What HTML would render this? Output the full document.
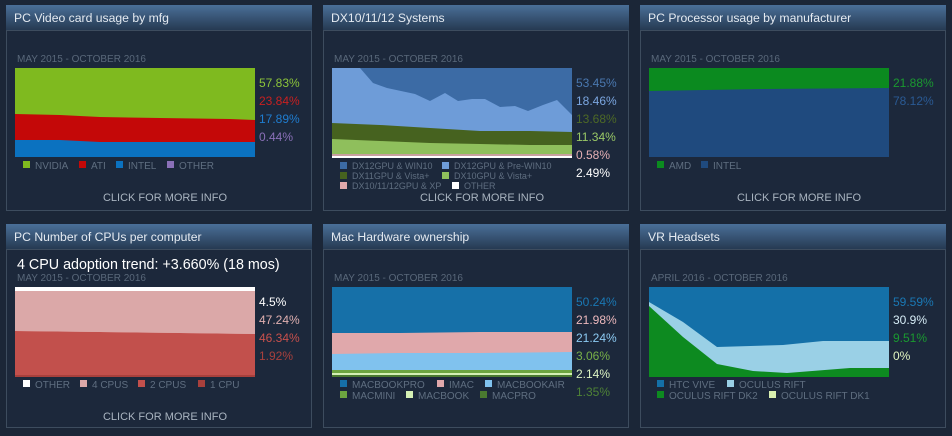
<!DOCTYPE html>
<html><head><meta charset="utf-8"><style>
html,body{margin:0;padding:0;background:#1b2637;}
svg{display:block;font-family:"Liberation Sans",sans-serif;}
</style></head><body>
<svg width="952" height="436" viewBox="0 0 952 436" xmlns="http://www.w3.org/2000/svg">
<defs>
<linearGradient id="hg" x1="0" y1="0" x2="0" y2="1"><stop offset="0" stop-color="#4a6f98"/><stop offset="1" stop-color="#263a52"/></linearGradient>
</defs>
<rect width="952" height="436" fill="#1b2637"/>
<g>
<rect x="6" y="5" width="306" height="25" fill="url(#hg)"/><rect x="6.5" y="30.5" width="305" height="180" fill="#1c283b" stroke="#3d4c5e"/>
<rect x="323" y="5" width="306" height="25" fill="url(#hg)"/><rect x="323.5" y="30.5" width="305" height="180" fill="#1c283b" stroke="#3d4c5e"/>
<rect x="640" y="5" width="306" height="25" fill="url(#hg)"/><rect x="640.5" y="30.5" width="305" height="180" fill="#1c283b" stroke="#3d4c5e"/>
<rect x="6" y="224" width="306" height="25" fill="url(#hg)"/><rect x="6.5" y="249.5" width="305" height="178" fill="#1c283b" stroke="#3d4c5e"/>
<rect x="323" y="224" width="306" height="25" fill="url(#hg)"/><rect x="323.5" y="249.5" width="305" height="178" fill="#1c283b" stroke="#3d4c5e"/>
<rect x="640" y="224" width="306" height="25" fill="url(#hg)"/><rect x="640.5" y="249.5" width="305" height="178" fill="#1c283b" stroke="#3d4c5e"/>
</g>
<g font-size="12.2" fill="#e4eaf1">
<text x="14" y="22">PC Video card usage by mfg</text>
<text x="331" y="22">DX10/11/12 Systems</text>
<text x="648" y="22">PC Processor usage by manufacturer</text>
<text x="14" y="241">PC Number of CPUs per computer</text>
<text x="331" y="241">Mac Hardware ownership</text>
<text x="648" y="241">VR Headsets</text>
</g>
<g font-size="10" fill="#59687a">
<text x="17" y="62">MAY 2015 - OCTOBER 2016</text>
<text x="334" y="62">MAY 2015 - OCTOBER 2016</text>
<text x="651" y="62">MAY 2015 - OCTOBER 2016</text>
<text x="17" y="281">MAY 2015 - OCTOBER 2016</text>
<text x="334" y="281">MAY 2015 - OCTOBER 2016</text>
<text x="651" y="281">APRIL 2016 - OCTOBER 2016</text>
</g>
<g font-size="11" fill="#a9b4c0" text-anchor="middle">
<text x="165" y="201">CLICK FOR MORE INFO</text>
<text x="482" y="201">CLICK FOR MORE INFO</text>
<text x="799" y="201">CLICK FOR MORE INFO</text>
<text x="165" y="420">CLICK FOR MORE INFO</text>
</g>

<!-- Chart 1 -->
<rect x="15" y="68" width="240" height="89" fill="#7fba1f"/>
<path d="M15,114 L60,115 L100,117 L160,118 L230,119 L255,120 L255,157 L15,157Z" fill="#c40808"/>
<path d="M15,140 L60,140 L100,142 L160,142 L255,142 L255,157 L15,157Z" fill="#0b72c0"/>
<g font-size="12"><text x="259" y="87" fill="#8cc43a">57.83%</text><text x="259" y="105" fill="#c82020">23.84%</text><text x="259" y="123" fill="#1f7dd0">17.89%</text><text x="259" y="141" fill="#8a70b8">0.44%</text></g>
<g font-size="10" fill="#5f6e80">
<rect x="23" y="161" width="7" height="7" fill="#7fba1f"/><text x="35" y="169">NVIDIA</text>
<rect x="79" y="161" width="7" height="7" fill="#c40808"/><text x="91" y="169">ATI</text>
<rect x="116" y="161" width="7" height="7" fill="#0b72c0"/><text x="128" y="169">INTEL</text>
<rect x="167" y="161" width="7" height="7" fill="#8a70b8"/><text x="179" y="169">OTHER</text>
</g>

<!-- Chart 2 -->
<rect x="332" y="68" width="240" height="89" fill="#3c6ba5"/>
<path d="M332,68 L360,68 L373,83 L387,88 L415,94 L430,101 L445,93 L458,101 L472,99 L485,99 L500,107 L515,106 L528,111 L543,105 L557,100 L572,115 L572,157 L332,157Z" fill="#6e9cd8"/>
<path d="M332,123 L380,125 L430,128 L480,131 L530,131 L572,132 L572,157 L332,157Z" fill="#46621f"/>
<path d="M332,139 L380,141 L430,143 L480,144 L530,145 L572,145 L572,157 L332,157Z" fill="#8fbf5c"/>
<rect x="332" y="154" width="240" height="2" fill="#c8a0a0"/>
<rect x="332" y="156" width="240" height="2" fill="#ffffff"/>
<g font-size="12"><text x="576" y="87" fill="#4a78b0">53.45%</text><text x="576" y="105" fill="#7ba6e0">18.46%</text><text x="576" y="123" fill="#4e6a26">13.68%</text><text x="576" y="141" fill="#9ac866">11.34%</text><text x="576" y="159" fill="#e6b0b4">0.58%</text><text x="576" y="177" fill="#ffffff">2.49%</text></g>
<g font-size="9" fill="#5f6e80">
<rect x="340" y="162" width="7" height="7" fill="#3c6ba5"/><text x="352" y="169">DX12GPU &amp; WIN10</text>
<rect x="442" y="162" width="7" height="7" fill="#6e9cd8"/><text x="454" y="169">DX12GPU &amp; Pre-WIN10</text>
<rect x="340" y="172" width="7" height="7" fill="#46621f"/><text x="352" y="179">DX11GPU &amp; Vista+</text>
<rect x="442" y="172" width="7" height="7" fill="#8fbf5c"/><text x="454" y="179">DX10GPU &amp; Vista+</text>
<rect x="340" y="182" width="7" height="7" fill="#e0a8ab"/><text x="352" y="189">DX10/11/12GPU &amp; XP</text>
<rect x="452" y="182" width="7" height="7" fill="#ffffff"/><text x="464" y="189">OTHER</text>
</g>

<!-- Chart 3 -->
<rect x="649" y="68" width="240" height="89" fill="#1f4a7e"/>
<path d="M649,68 L889,68 L889,88 L760,89 L649,91Z" fill="#0b8a1f"/>
<g font-size="12"><text x="893" y="87" fill="#1a9a30">21.88%</text><text x="893" y="105" fill="#2a5a94">78.12%</text></g>
<g font-size="10" fill="#5f6e80">
<rect x="657" y="161" width="7" height="7" fill="#0b8a1f"/><text x="669" y="169">AMD</text>
<rect x="701" y="161" width="7" height="7" fill="#1f4a7e"/><text x="713" y="169">INTEL</text>
</g>

<!-- Chart 4 -->
<text x="17" y="269" font-size="14.3" fill="#ffffff">4 CPU adoption trend: +3.660% (18 mos)</text>
<rect x="15" y="287" width="240" height="90" fill="#ffffff"/>
<path d="M15,291 L255,291 L255,334 L180,333 L100,332 L15,331Z" fill="#dba8a8"/>
<path d="M15,331 L100,332 L180,333 L255,334 L255,377 L15,377Z" fill="#c2504c"/>
<rect x="15" y="375" width="240" height="2" fill="#a8403c"/>
<g font-size="12"><text x="259" y="306" fill="#ffffff">4.5%</text><text x="259" y="324" fill="#e0b0b0">47.24%</text><text x="259" y="342" fill="#c8504c">46.34%</text><text x="259" y="360" fill="#a8403c">1.92%</text></g>
<g font-size="10" fill="#5f6e80">
<rect x="23" y="380" width="7" height="7" fill="#ffffff"/><text x="35" y="388">OTHER</text>
<rect x="80" y="380" width="7" height="7" fill="#dba8a8"/><text x="92" y="388">4 CPUS</text>
<rect x="138" y="380" width="7" height="7" fill="#c2504c"/><text x="150" y="388">2 CPUS</text>
<rect x="198" y="380" width="7" height="7" fill="#a8403c"/><text x="210" y="388">1 CPU</text>
</g>

<!-- Chart 5 -->
<rect x="332" y="287" width="240" height="90" fill="#1670a8"/>
<path d="M332,333 L400,333 L480,332 L572,332 L572,377 L332,377Z" fill="#e0a8ab"/>
<path d="M332,354 L400,353 L480,353 L572,352 L572,377 L332,377Z" fill="#80c2ee"/>
<rect x="332" y="370" width="240" height="3" fill="#6ca540"/>
<rect x="332" y="373" width="240" height="2" fill="#d4f0b4"/>
<rect x="332" y="375" width="240" height="2" fill="#4a7a30"/>
<g font-size="12"><text x="576" y="306" fill="#1a78b4">50.24%</text><text x="576" y="324" fill="#ecb8bc">21.98%</text><text x="576" y="342" fill="#8ccaf2">21.24%</text><text x="576" y="360" fill="#78b048">3.06%</text><text x="576" y="378" fill="#dcf4c4">2.14%</text><text x="576" y="396" fill="#4e8236">1.35%</text></g>
<g font-size="10" fill="#5f6e80">
<rect x="340" y="380" width="7" height="7" fill="#1670a8"/><text x="352" y="388">MACBOOKPRO</text>
<rect x="437" y="380" width="7" height="7" fill="#e0a8ab"/><text x="449" y="388">IMAC</text>
<rect x="485" y="380" width="7" height="7" fill="#80c2ee"/><text x="497" y="388">MACBOOKAIR</text>
<rect x="340" y="391" width="7" height="7" fill="#6ca540"/><text x="352" y="399">MACMINI</text>
<rect x="406" y="391" width="7" height="7" fill="#d4f0b4"/><text x="418" y="399">MACBOOK</text>
<rect x="480" y="391" width="7" height="7" fill="#4a7a30"/><text x="492" y="399">MACPRO</text>
</g>

<!-- Chart 6 -->
<rect x="649" y="287" width="240" height="90" fill="#1470a8"/>
<path d="M649,302 L683,322 L717,347 L783,345 L823,341 L889,341 L889,377 L649,377Z" fill="#9ad0e6"/>
<path d="M649,306 L683,337 L717,364 L753,371 L787,373 L850,368 L889,368 L889,377 L649,377Z" fill="#0d8a20"/>
<g font-size="12"><text x="893" y="306" fill="#1a78b4">59.59%</text><text x="893" y="324" fill="#d6ecf6">30.9%</text><text x="893" y="342" fill="#1a9a30">9.51%</text><text x="893" y="360" fill="#e0f4c0">0%</text></g>
<g font-size="10" fill="#5f6e80">
<rect x="657" y="380" width="7" height="7" fill="#1470a8"/><text x="669" y="388">HTC VIVE</text>
<rect x="727" y="380" width="7" height="7" fill="#9ad0e6"/><text x="739" y="388">OCULUS RIFT</text>
<rect x="657" y="391" width="7" height="7" fill="#0d8a20"/><text x="669" y="399">OCULUS RIFT DK2</text>
<rect x="769" y="391" width="7" height="7" fill="#d9f0b0"/><text x="781" y="399">OCULUS RIFT DK1</text>
</g>
</svg>
</body></html>
